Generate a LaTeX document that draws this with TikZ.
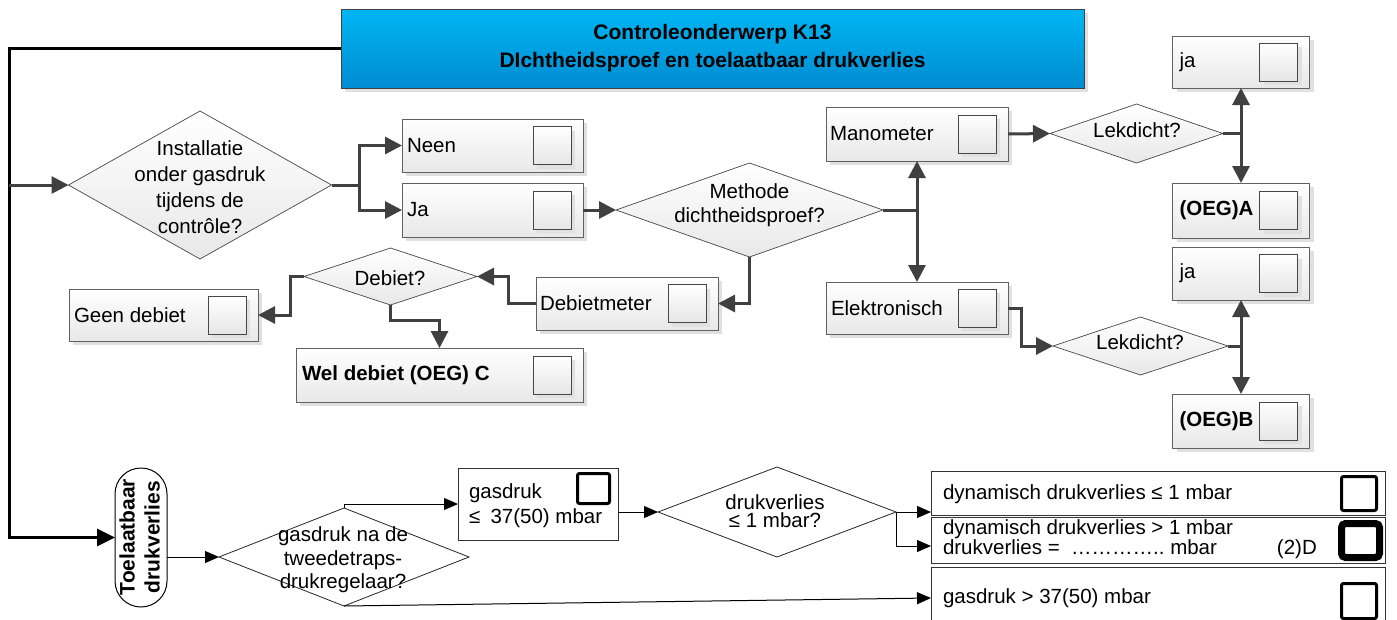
\documentclass[tikz,border=0pt]{standalone}
\usepackage{fontspec}
\setmainfont{Liberation Sans}
\usetikzlibrary{arrows.meta,shapes.geometric,shadows}

\definecolor{titletop}{RGB}{0,182,242}
\definecolor{titlebot}{RGB}{0,140,210}
\definecolor{connector}{RGB}{64,64,64}

\tikzset{
  nosep/.style={inner sep=0pt, outer sep=0pt},
  softshadow/.style={general shadow={shadow xshift=4pt, shadow yshift=-4pt, fill=black!12}},
  titlebox/.style={nosep, draw=black!75, line width=0.8pt, top color=titletop, bottom color=titlebot, softshadow},
  panel/.style={nosep, draw=black!62, line width=0.8pt, top color=white, bottom color=black!9, softshadow},
  chk/.style={nosep, draw=black!72, line width=0.8pt, top color=white, bottom color=black!10,
    minimum width=38pt, minimum height=38pt, softshadow},
  ask/.style={nosep, diamond, draw=black!72, line width=0.7pt, top color=white, bottom color=black!9},
  txt/.style={nosep, font=\fontsize{20.5}{24}\selectfont},
  flow/.style={draw=connector, line width=3pt, -{Triangle[length=17pt,width=17pt]}},
  rail/.style={draw=black, line width=3pt},
  fine/.style={draw=black, line width=1pt, -{Triangle[length=14pt,width=12pt]}},
  wbox/.style={nosep, draw=black!80, line width=1pt, fill=white},
  wask/.style={nosep, diamond, draw=black!85, line width=0.8pt, fill=white},
  boldchk/.style={nosep, draw=black, fill=white, line width=3pt, rounded corners=2pt},
}

\begin{document}
\begin{tikzpicture}[x=1pt, y=-1pt]
\useasboundingbox (0,0) rectangle (1397,619);
\fill[white] (0,0) rectangle (1397,619);

% ---------- heading ----------
\node[titlebox, minimum width=743pt, minimum height=79pt, align=center,
      font=\bfseries\fontsize{21}{28}\selectfont] (title) at (712.5,48.5)
      {Controleonderwerp K13\\DIchtheidsproef en toelaatbaar drukverlies};

% ---------- upper flow: dichtheidsproef ----------
\node[ask, minimum width=263pt, minimum height=148pt] (q1) at (200,185) {};
\node[txt, align=center, font=\fontsize{20.5}{26}\selectfont] at (200,187.5)
      {Installatie\\onder gasdruk\\tijdens de\\contrôle?};

\node[panel, minimum width=181pt, minimum height=53pt] (neen) at (492.5,145.5) {};
\node[txt, anchor=west] at ([xshift=5pt]neen.west) {Neen};
\node[chk] at ([xshift=-31pt]neen.east) {};

\node[panel, minimum width=181pt, minimum height=54pt] (ja) at (492.5,210) {};
\node[txt, anchor=west] at ([xshift=5pt]ja.west) {Ja};
\node[chk] at ([xshift=-31pt]ja.east) {};

\node[ask, minimum width=267pt, minimum height=94pt] (q2) at (749.5,210) {};
\node[txt, align=center, font=\fontsize{20.5}{24}\selectfont] at (749.5,205)
      {Methode\\dichtheidsproef?};

\node[panel, minimum width=182pt, minimum height=54pt] (mano) at (917,134) {};
\node[txt, anchor=west] at ([xshift=4pt]mano.west) {Manometer};
\node[chk] at ([xshift=-31pt]mano.east) {};

\node[panel, minimum width=182pt, minimum height=52pt] (elek) at (917,308) {};
\node[txt, anchor=west] at ([xshift=5pt]elek.west) {Elektronisch};
\node[chk] at ([xshift=-31pt]elek.east) {};

\node[ask, minimum width=173pt, minimum height=59pt] (lek1) at (1136.5,133.5) {};
\node[txt] at (1137,130) {Lekdicht?};

\node[ask, minimum width=175pt, minimum height=58pt] (lek2) at (1140.5,346) {};
\node[txt] at (1140,342) {Lekdicht?};

\node[panel, minimum width=137pt, minimum height=52pt] (ja1) at (1241,62) {};
\node[txt, anchor=west] at ([xshift=7pt]ja1.west) {ja};
\node[chk] at ([xshift=-31pt]ja1.east) {};

\node[panel, minimum width=137pt, minimum height=55pt] (oega) at (1241,210.5) {};
\node[txt, anchor=west, font=\bfseries\fontsize{20.5}{24}\selectfont] at ([xshift=7pt]oega.west) {(OEG)A};
\node[chk] at ([xshift=-31pt]oega.east) {};

\node[panel, minimum width=137pt, minimum height=53pt] (ja2) at (1241,273.5) {};
\node[txt, anchor=west] at ([xshift=7pt]ja2.west) {ja};
\node[chk] at ([xshift=-31pt]ja2.east) {};

\node[panel, minimum width=137pt, minimum height=54pt] (oegb) at (1241,421) {};
\node[txt, anchor=west, font=\bfseries\fontsize{20.5}{24}\selectfont] at ([xshift=7pt]oegb.west) {(OEG)B};
\node[chk] at ([xshift=-31pt]oegb.east) {};

\node[panel, minimum width=182pt, minimum height=53pt] (debm) at (627,303.5) {};
\node[txt, anchor=west] at ([xshift=4pt]debm.west) {Debietmeter};
\node[chk] at ([xshift=-31pt]debm.east) {};

\node[ask, minimum width=173pt, minimum height=57pt] (deb) at (390.5,276.5) {};
\node[txt] at (390,278) {Debiet?};

\node[panel, minimum width=189pt, minimum height=52pt] (geen) at (163.5,315) {};
\node[txt, anchor=west] at ([xshift=5pt]geen.west) {Geen debiet};
\node[chk] at ([xshift=-31pt]geen.east) {};

\node[panel, minimum width=287pt, minimum height=54pt] (wel) at (439.5,375) {};
\node[txt, anchor=west, font=\bfseries\fontsize{20.5}{24}\selectfont] at ([xshift=6pt]wel.west) {Wel debiet (OEG) C};
\node[chk] at ([xshift=-31pt]wel.east) {};

% ---------- lower flow: toelaatbaar drukverlies ----------
\node[nosep, draw=black, line width=1pt, fill=white, rounded corners=26pt,
      minimum width=52pt, minimum height=139pt] (toel) at (141,537.5) {};
\node[nosep, rotate=90, align=center, font=\bfseries\fontsize{21}{25}\selectfont] at (139.5,537)
      {Toelaatbaar\\drukverlies};

\node[wask, minimum width=250pt, minimum height=98pt] (q3) at (344,557) {};
\node[txt, align=center, font=\fontsize{20.5}{23.5}\selectfont] at (343,560)
      {gasdruk na de\\tweedetraps-\\drukregelaar?};

\node[wbox, minimum width=160pt, minimum height=72pt] (gbox) at (538,504) {};
\node[txt, anchor=west, align=left, font=\fontsize{20.5}{25}\selectfont] at (469,505.5)
      {gasdruk\\≤\enspace 37(50) mbar};
\node[boldchk, minimum width=32pt, minimum height=30pt] at (593.5,488.5) {};

\node[wask, minimum width=238pt, minimum height=90pt] (q4) at (777,512) {};
\node[txt, align=center, font=\fontsize{20.5}{18.5}\selectfont] at (775,511)
      {drukverlies\\≤ 1 mbar?};

\node[wbox, minimum width=454pt, minimum height=44pt] (r1) at (1158,493) {};
\node[txt, anchor=west] at (943,494) {dynamisch drukverlies ≤ 1 mbar};
\node[boldchk, minimum width=35pt, minimum height=34pt] at (1359,493.5) {};

\node[wbox, minimum width=454pt, minimum height=46pt] (r2) at (1158,540) {};
\node[txt, anchor=west, align=left, font=\fontsize{20.5}{18.5}\selectfont] at (943,539.5)
      {dynamisch drukverlies > 1 mbar\\drukverlies =\ \ …………..\ mbar\hspace{60pt}(2)D};
\node[boldchk, line width=7pt, rounded corners=4pt, minimum width=38pt, minimum height=34pt] at (1360.5,540.5) {};

\node[wbox, minimum width=454pt, minimum height=73pt] (r3) at (1158,603.5) {};
\node[txt, anchor=west] at (943,598) {gasdruk > 37(50) mbar};
\node[boldchk, minimum width=35pt, minimum height=35pt] at (1359,601) {};

% ---------- connectors ----------
\coordinate (railbot) at (9,537.5);
\draw[rail, -{Triangle[length=18pt,width=17pt]}] (title.west) -| (railbot) -- (toel.west);
\draw[flow] (q1.west -| railbot) -- (q1.west);

\draw[flow] (q1.east) -- ++(28,0) |- (neen.west);
\draw[flow] (q1.east) -- ++(28,0) |- (ja.west);
\draw[flow] (ja.east) -- (q2.west);
\draw[flow] (q2.east) -| (mano.south);
\draw[flow] (q2.east) -| (elek.north);
\draw[flow] (mano.east) -- (lek1.west);
\draw[flow] (lek1.east) -| (ja1.south);
\draw[flow] (lek1.east) -| (oega.north);
\draw[flow] (elek.east) -- ++(13,0) |- (lek2.west);
\draw[flow] (lek2.east) -| (ja2.south);
\draw[flow] (lek2.east) -| (oegb.north);
\draw[flow] (q2.south) |- (debm.east);
\draw[flow] (debm.west) -- ++(-28,0) |- (deb.east);
\draw[flow] (deb.west) -- ++(-14,0) |- (geen.east);
\draw[flow] (deb.south) -- ++(0,15) -| (wel.north);

\draw[fine] (toel.east |- q3.west) -- (q3.west);
\draw[fine] (q3.north) |- (gbox.west);
\draw[fine] (gbox.east |- q4.west) -- (q4.west);
\draw[fine] (q4.east) -- (q4.east -| r1.west);
\draw[fine] (q4.east) |- ([yshift=-6pt]r2.west);
\draw[fine] (q3.south) -- ([yshift=5.5pt]r3.west);
\end{tikzpicture}
\end{document}
